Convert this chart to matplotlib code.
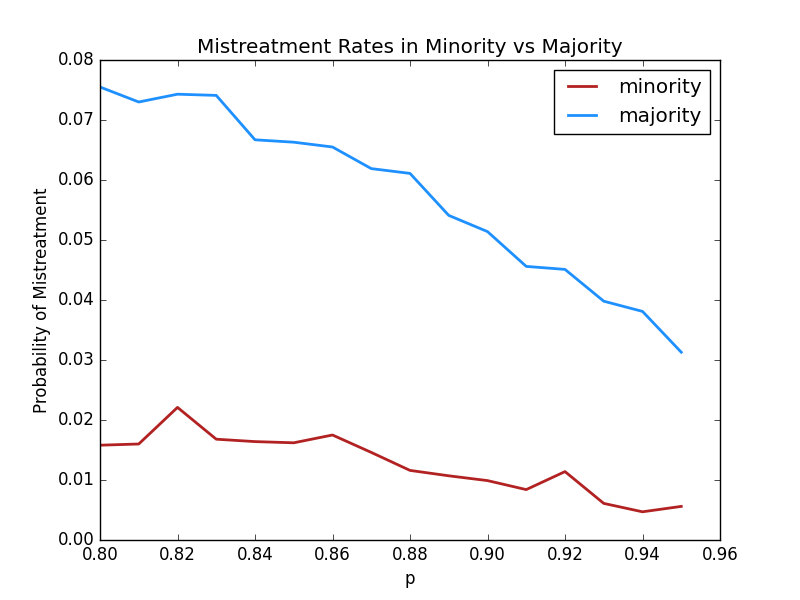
import matplotlib
matplotlib.use("Agg")
import matplotlib.pyplot as plt

plt.style.use("classic")

p = [0.80, 0.81, 0.82, 0.83, 0.84, 0.85, 0.86, 0.87, 0.88, 0.89, 0.90, 0.91, 0.92, 0.93, 0.94, 0.95]
minority = [0.0158, 0.0160, 0.0221, 0.0168, 0.0164, 0.0162, 0.0175, 0.0146, 0.0116, 0.0107,
            0.0099, 0.0084, 0.0114, 0.0061, 0.0047, 0.0056]
majority = [0.0755, 0.0730, 0.0743, 0.0741, 0.0667, 0.0663, 0.0655, 0.0619, 0.0611, 0.0541,
            0.0514, 0.0456, 0.0451, 0.0398, 0.0381, 0.0313]

fig, ax = plt.subplots(figsize=(8, 6), dpi=100)
fig.patch.set_facecolor("white")
ax.plot(p, minority, color="firebrick", linewidth=2, label="minority")
ax.plot(p, majority, color="dodgerblue", linewidth=2, label="majority")
ax.set_xlim(0.80, 0.96)
ax.set_ylim(0.0, 0.08)
ax.set_xlabel("p")
ax.set_ylabel("Probability of Mistreatment")
ax.set_title("Mistreatment Rates in Minority vs Majority")
ax.legend(loc="upper right")
fig.savefig("out.png", dpi=100, facecolor="white")
